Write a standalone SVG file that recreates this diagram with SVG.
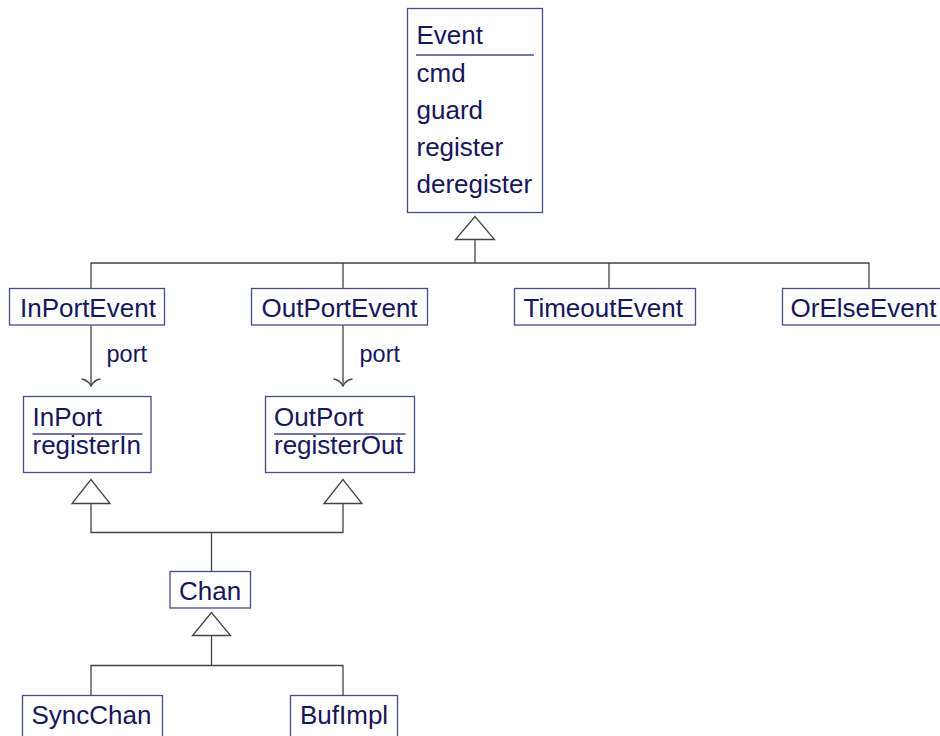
<svg xmlns="http://www.w3.org/2000/svg" width="940" height="736" viewBox="0 0 940 736">
<style>
.box{fill:#fff;stroke:#4a4a88;stroke-width:1.3}
.t{font-family:"Liberation Sans",Arial,sans-serif;font-size:26px;fill:#16165a}
.lbl{font-family:"Liberation Sans",Arial,sans-serif;font-size:23.5px;fill:#16165a}
.sep{stroke:#4a4a88;stroke-width:1.3}
.ln{fill:none;stroke:#444;stroke-width:1.3}
.tri{fill:#fff;stroke:#444;stroke-width:1.3}
</style>
<rect width="940" height="736" fill="#fff"/>
<g id="connectors">
  <path class="ln" d="M475,239.5 V263 M91,288 V263 H869 V288 M343,263 V288 M609,263 V288"/>
  <polygon class="tri" points="475,216.5 455.5,239.5 494.5,239.5"/>
  <path class="ln" d="M91,325 V386"/>
  <path class="ln" d="M81.5,379 Q88,380 91,386 Q94,380 100.5,379"/>
  <text class="lbl" x="106.5" y="361.5">port</text>
  <path class="ln" d="M343,325 V386"/>
  <path class="ln" d="M333.5,379 Q340,380 343,386 Q346,380 352.5,379"/>
  <text class="lbl" x="359.5" y="361.5">port</text>
  <path class="ln" d="M91,503.5 V532.5 H343 V503.5 M211.5,532.5 V571.5"/>
  <polygon class="tri" points="91,479.5 72,503.5 110,503.5"/>
  <polygon class="tri" points="343,479.5 324,503.5 362,503.5"/>
  <path class="ln" d="M211.5,635.5 V665.5 M91,695.5 V665.5 H343 V695.5"/>
  <polygon class="tri" points="211.5,612.5 192.5,635.5 230.5,635.5"/>
</g>
<g id="Event">
  <rect class="box" x="407.5" y="8.5" width="135" height="204"/>
  <text class="t" x="416.5" y="43.5">Event</text>
  <line class="sep" x1="416" y1="55" x2="534" y2="55"/>
  <text class="t" x="416.5" y="81.5">cmd</text>
  <text class="t" x="416.5" y="118.5">guard</text>
  <text class="t" x="416.5" y="155.5">register</text>
  <text class="t" x="416.5" y="192.5">deregister</text>
</g>
<g id="InPortEvent">
  <rect class="box" x="9.5" y="288.5" width="155" height="36.5"/>
  <text class="t" x="20" y="316.5">InPortEvent</text>
</g>
<g id="OutPortEvent">
  <rect class="box" x="251.5" y="288.5" width="176" height="36.5"/>
  <text class="t" x="261.5" y="316.5">OutPortEvent</text>
</g>
<g id="TimeoutEvent">
  <rect class="box" x="514.5" y="288.5" width="181" height="36.5"/>
  <text class="t" x="523.5" y="316.5">TimeoutEvent</text>
</g>
<g id="OrElseEvent">
  <rect class="box" x="782.5" y="288.5" width="170" height="36.5"/>
  <text class="t" x="790.5" y="316.5">OrElseEvent</text>
</g>
<g id="InPort">
  <rect class="box" x="23.5" y="396.5" width="127.5" height="76"/>
  <text class="t" x="32.5" y="425.5">InPort</text>
  <line class="sep" x1="32.5" y1="434" x2="142.5" y2="434"/>
  <text class="t" x="32.5" y="454">registerIn</text>
</g>
<g id="OutPort">
  <rect class="box" x="265.5" y="396.5" width="149" height="76"/>
  <text class="t" x="274" y="425.5">OutPort</text>
  <line class="sep" x1="274" y1="434" x2="405.5" y2="434"/>
  <text class="t" x="274" y="454">registerOut</text>
</g>
<g id="Chan">
  <rect class="box" x="170" y="571.5" width="80.5" height="36.5"/>
  <text class="t" x="179" y="600">Chan</text>
</g>
<g id="SyncChan">
  <rect class="box" x="22.5" y="695.5" width="140" height="50"/>
  <text class="t" x="31.5" y="724">SyncChan</text>
</g>
<g id="BufImpl">
  <rect class="box" x="290.5" y="695.5" width="107" height="50"/>
  <text class="t" x="300" y="724">BufImpl</text>
</g>
</svg>
